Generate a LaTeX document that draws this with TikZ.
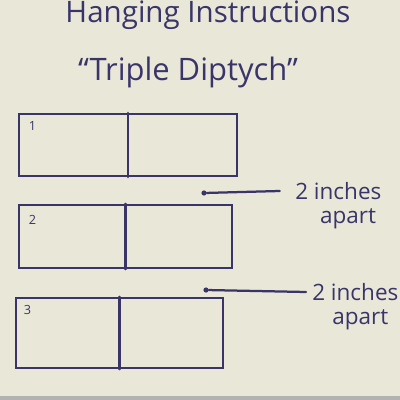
\documentclass[tikz,border=0pt]{standalone}
\usepackage{fontspec}
\setmainfont{Open Sans}
\usetikzlibrary{positioning}
\definecolor{ink}{RGB}{58,52,105}
\definecolor{paper}{RGB}{233,231,216}

\begin{document}
\begin{tikzpicture}[x=0.025cm,y=-0.025cm,
    pen/.style={draw=ink,line width=1.6pt,line cap=round},
    panel/.style={pen,rectangle,inner sep=0pt},
    hand/.style={text=ink,inner sep=0pt},
    num/.style={hand,font=\fontsize{9}{10}\selectfont},
    note/.style={hand,font=\fontsize{16}{18}\selectfont,anchor=west},
    pin/.style={circle,fill=ink,inner sep=0pt,minimum size=0.13cm}]
  \fill[paper] (0,0) rectangle (400,400);
  \useasboundingbox (0,0) rectangle (400,400);
  \fill[black!30] (0,396) rectangle (400,400);
  % heading
  \node[hand,font=\fontsize{21}{24}\selectfont] (title) at (208,15) {Hanging Instructions};
  \node[hand,font=\fontsize{22}{24}\selectfont] (name) at (188,72) {“Triple Diptych”};
  % diptych 1
  \node[panel,minimum width=5.45cm,minimum height=1.55cm] (p1) at (128,145) {};
  \draw[pen] (p1.north) -- (p1.south);
  \node[num,below right=0.22cm and 0.27cm of p1.north west,anchor=north west] (n1) {1};
  % diptych 2
  \node[panel,minimum width=5.325cm,minimum height=1.575cm] (p2) at (125.5,236.5) {};
  \draw[pen] (p2.north) -- (p2.south);
  \node[num,below right=0.27cm and 0.27cm of p2.north west,anchor=north west] (n2) {2};
  % diptych 3
  \node[panel,minimum width=5.175cm,minimum height=1.75cm] (p3) at (119.5,333) {};
  \draw[pen] (p3.north) -- (p3.south);
  \node[num,below right=0.2cm and 0.22cm of p3.north west,anchor=north west] (n3) {3};
  % spacing notes
  \node[pin] (d1) at (204,193) {};
  \node[note] (g1) at (295,191) {2 inches};
  \node[note,below right=0.2cm and 0.62cm of g1.south west,anchor=north west] (a1) {apart};
  \draw[pen] (d1) -- ([xshift=-0.38cm]g1.west);
  \node[pin] (d2) at (206,290) {};
  \node[note] (g2) at (312,292) {2 inches};
  \node[note,below right=0.2cm and 0.5cm of g2.south west,anchor=north west] (a2) {apart};
  \draw[pen] (d2) -- ([xshift=-0.15cm]g2.west);
\end{tikzpicture}
\end{document}
